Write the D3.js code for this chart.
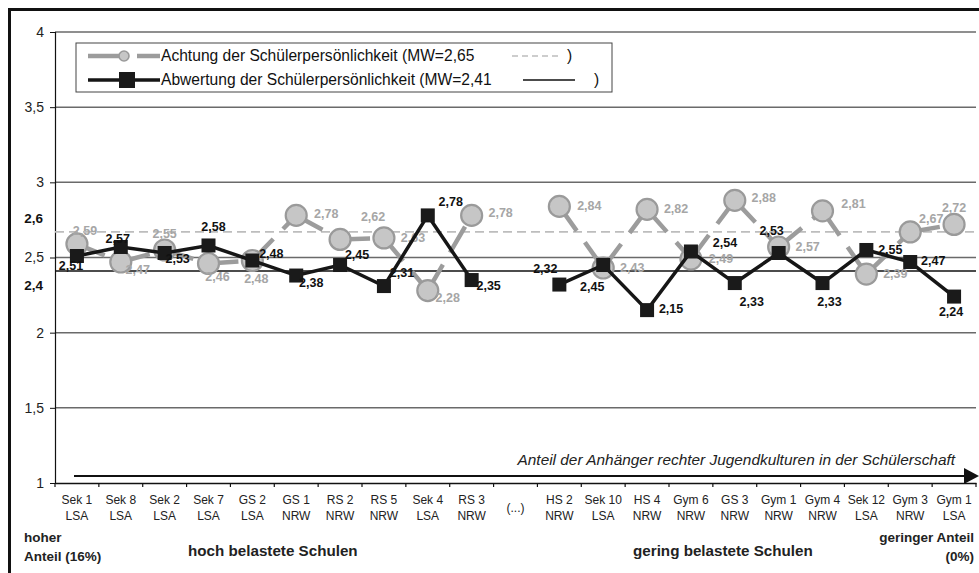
<!DOCTYPE html>
<html>
<head>
<meta charset="utf-8">
<script src="https://cdn.jsdelivr.net/npm/d3@7"></script>
<style>
  html, body { margin: 0; padding: 0; background: #fff; }
  svg { display: block; font-family: Arial, "Liberation Sans", sans-serif; }
</style>
</head>
<body>
<svg id="chart" width="979" height="573"></svg>
<script>
// ---------------------------------------------------------------------------
// Data
// ---------------------------------------------------------------------------
const schools = ["Sek 1", "Sek 8", "Sek 2", "Sek 7", "GS 2", "GS 1", "RS 2", "RS 5", "Sek 4", "RS 3",
  "(...)", "HS 2", "Sek 10", "HS 4", "Gym 6", "GS 3", "Gym 1", "Gym 4", "Sek 12", "Gym 3", "Gym 1"];
const regions = ["LSA", "LSA", "LSA", "LSA", "LSA", "NRW", "NRW", "NRW", "LSA", "NRW",
  "", "NRW", "LSA", "NRW", "NRW", "NRW", "NRW", "NRW", "LSA", "NRW", "LSA"];

const achtung = [2.59, 2.47, 2.55, 2.46, 2.48, 2.78, 2.62, 2.63, 2.28, 2.78,
  null, 2.84, 2.43, 2.82, 2.49, 2.88, 2.57, 2.81, 2.39, 2.67, 2.72];
const abwertung = [2.51, 2.57, 2.53, 2.58, 2.48, 2.38, 2.45, 2.31, 2.78, 2.35,
  null, 2.32, 2.45, 2.15, 2.54, 2.33, 2.53, 2.33, 2.55, 2.47, 2.24];

const meanLabels = ["2,65", "2,41"];
const meanAchtungLine = 2.67;   // dashed line as drawn in the picture
const meanAbwertungLine = 2.41;

const yTicks = [1, 1.5, 2, 2.5, 3, 3.5, 4];

// label offsets (px) relative to the marker, hand placed like the original
const grayDx = [8, 17, 0, 9, 4, 30, 33, 29, 20, 29, 0, 30, 29, 29, 30, 29, 29, 31, 29, 21, 0];
const grayDy = [-13, 8, -16, 13, 18, -1, -22, 0, 7, -2, 0, 0, 0, 0, 0, -2, 0, -7, 0, -13, -16];
const blackDx = [-6, -3, 13, 5, 19, 15, 17, 18, 23, 17, 0, -14, -11, 24, 34, 17, -7, 7, 24, 23, -3];
const blackDy = [10, -8, 6, -18, -7, 7, -10, -13, -13, 6, 0, -16, 22, -1, -8, 19, -22, 19, 0, -1, 15];

// ---------------------------------------------------------------------------
const fmt = v => d3.format(".2f")(v).replace(".", ",");
const svg = d3.select("#chart");

const x = d3.scaleBand().domain(d3.range(schools.length)).range([55, 976]).padding(0);
const y = d3.scaleLinear().domain([1, 4]).range([483, 32]);
const cx = i => x(i) + x.bandwidth() / 2;

// outer frame (top + left only are visible)
svg.append("line").attr("x1", 9).attr("x2", 979).attr("y1", 9.5).attr("y2", 9.5)
  .attr("stroke", "#111").attr("stroke-width", 3);
svg.append("line").attr("x1", 9.5).attr("x2", 9.5).attr("y1", 8).attr("y2", 573)
  .attr("stroke", "#111").attr("stroke-width", 3);

// gridlines
svg.append("g").selectAll("line").data(yTicks.filter(d => d > 1)).join("line")
  .attr("x1", 55).attr("x2", 976)
  .attr("y1", d => y(d)).attr("y2", d => y(d))
  .attr("stroke", "#6a6a6a").attr("stroke-width", 1.5);

// y axis
const yAxis = svg.append("g").attr("transform", "translate(55,0)")
  .call(d3.axisLeft(y).tickValues(yTicks).tickSize(5).tickPadding(6)
    .tickFormat(d => String(d).replace(".", ",")));
yAxis.select(".domain").attr("stroke", "#111").attr("stroke-width", 1.2);
yAxis.selectAll(".tick line").attr("stroke", "#111");
yAxis.selectAll("text").attr("font-size", 14).attr("fill", "#222")
  .attr("font-family", "Arial, Liberation Sans, sans-serif");

// x axis
const xAxis = svg.append("g").attr("transform", `translate(0,${y(1)})`)
  .call(d3.axisBottom(x).tickSize(0).tickFormat(""));
xAxis.select(".domain").attr("stroke", "#111").attr("stroke-width", 1.5);
svg.append("g").selectAll("line").data(d3.range(schools.length + 1)).join("line")
  .attr("x1", i => 55 + i * x.bandwidth()).attr("x2", i => 55 + i * x.bandwidth())
  .attr("y1", y(1)).attr("y2", y(1) + 4)
  .attr("stroke", "#111").attr("stroke-width", 1.2);

const xl = svg.append("g").attr("font-size", 12).attr("fill", "#222").attr("text-anchor", "middle");
schools.forEach((s, i) => {
  if (regions[i] === "") {
    xl.append("text").attr("x", cx(i)).attr("y", 512).text(s);
  } else {
    xl.append("text").attr("x", cx(i)).attr("y", 504).text(s);
    xl.append("text").attr("x", cx(i)).attr("y", 520).text(regions[i]);
  }
});

// extra mean annotations on the left
svg.append("text").attr("x", 43).attr("y", 223).attr("text-anchor", "end")
  .attr("font-size", 13.5).attr("font-weight", "bold").attr("fill", "#111").text("2,6");
svg.append("text").attr("x", 43).attr("y", 290).attr("text-anchor", "end")
  .attr("font-size", 13.5).attr("font-weight", "bold").attr("fill", "#111").text("2,4");

// mean lines
svg.append("line").attr("x1", 55).attr("x2", 976)
  .attr("y1", y(meanAchtungLine)).attr("y2", y(meanAchtungLine))
  .attr("stroke", "#bdbdbd").attr("stroke-width", 1.8).attr("stroke-dasharray", "9,5");
svg.append("line").attr("x1", 55).attr("x2", 976)
  .attr("y1", y(meanAbwertungLine)).attr("y2", y(meanAbwertungLine))
  .attr("stroke", "#111").attr("stroke-width", 1.5);

// gray series: long-dash segments restarting at each point
const grayPairs = d3.pairs(d3.range(achtung.length))
  .filter(([a, b]) => achtung[a] != null && achtung[b] != null);
svg.append("g").selectAll("line").data(grayPairs).join("line")
  .attr("x1", d => cx(d[0])).attr("y1", d => y(achtung[d[0]]))
  .attr("x2", d => cx(d[1])).attr("y2", d => y(achtung[d[1]]))
  .attr("stroke", "#9c9c9c").attr("stroke-width", 4.5)
  .attr("stroke-dasharray", "30,14");

const grayIdx = d3.range(achtung.length).filter(i => achtung[i] != null);
svg.append("g").selectAll("circle").data(grayIdx).join("circle")
  .attr("cx", i => cx(i)).attr("cy", i => y(achtung[i])).attr("r", 10.5)
  .attr("fill", "#c6c6c6").attr("stroke", "#9a9a9a").attr("stroke-width", 2.2);

svg.append("g").selectAll("text").data(grayIdx).join("text")
  .attr("x", i => cx(i) + grayDx[i]).attr("y", i => y(achtung[i]) + grayDy[i])
  .attr("text-anchor", "middle").attr("dominant-baseline", "central")
  .attr("font-size", 12.5).attr("font-weight", "bold").attr("fill", "#a6a6a6")
  .text(i => fmt(achtung[i]));

// black series
const line = d3.line().defined(d => d != null).x((d, i) => cx(i)).y(d => y(d));
svg.append("path").datum(abwertung).attr("d", line)
  .attr("fill", "none").attr("stroke", "#161616").attr("stroke-width", 3.5)
  .attr("stroke-linejoin", "miter");

const blackIdx = d3.range(abwertung.length).filter(i => abwertung[i] != null);
svg.append("g").selectAll("rect").data(blackIdx).join("rect")
  .attr("x", i => cx(i) - 7).attr("y", i => y(abwertung[i]) - 7)
  .attr("width", 14).attr("height", 14).attr("fill", "#1a1a1a");

svg.append("g").selectAll("text").data(blackIdx).join("text")
  .attr("x", i => cx(i) + blackDx[i]).attr("y", i => y(abwertung[i]) + blackDy[i])
  .attr("text-anchor", "middle").attr("dominant-baseline", "central")
  .attr("font-size", 12.5).attr("font-weight", "bold").attr("fill", "#111")
  .text(i => fmt(abwertung[i]));

// legend
const lg = svg.append("g");
lg.append("rect").attr("x", 76).attr("y", 43).attr("width", 536).attr("height", 49)
  .attr("fill", "#fff").attr("stroke", "#444").attr("stroke-width", 1);
lg.append("line").attr("x1", 88).attr("x2", 160).attr("y1", 56).attr("y2", 56)
  .attr("stroke", "#9c9c9c").attr("stroke-width", 4.5).attr("stroke-dasharray", "32,17");
lg.append("circle").attr("cx", 124).attr("cy", 56).attr("r", 5)
  .attr("fill", "#c6c6c6").attr("stroke", "#9a9a9a").attr("stroke-width", 1.6);
lg.append("line").attr("x1", 88).attr("x2", 160).attr("y1", 80).attr("y2", 80)
  .attr("stroke", "#161616").attr("stroke-width", 3.5);
lg.append("rect").attr("x", 119).attr("y", 72).attr("width", 16).attr("height", 16)
  .attr("fill", "#1a1a1a");
lg.append("text").attr("x", 161).attr("y", 61).attr("font-size", 15.6).attr("fill", "#111")
  .text(`Achtung der Schülerpersönlichkeit (MW=${meanLabels[0]}`);
lg.append("text").attr("x", 161).attr("y", 85).attr("font-size", 15.6).attr("fill", "#111")
  .text(`Abwertung der Schülerpersönlichkeit (MW=${meanLabels[1]}`);
lg.append("line").attr("x1", 512).attr("x2", 562).attr("y1", 56).attr("y2", 56)
  .attr("stroke", "#bdbdbd").attr("stroke-width", 1.5).attr("stroke-dasharray", "6,4");
lg.append("text").attr("x", 567).attr("y", 61).attr("font-size", 15.6).attr("fill", "#111").text(")");
lg.append("line").attr("x1", 523).attr("x2", 575).attr("y1", 80).attr("y2", 80)
  .attr("stroke", "#111").attr("stroke-width", 1.5);
lg.append("text").attr("x", 594).attr("y", 85).attr("font-size", 15.6).attr("fill", "#111").text(")");

// arrow along the bottom
svg.append("line").attr("x1", 74).attr("x2", 966).attr("y1", 476).attr("y2", 476)
  .attr("stroke", "#111").attr("stroke-width", 2);
svg.append("path").attr("d", "M964,468 L979,476 L964,484 Z").attr("fill", "#111");
svg.append("text").attr("x", 955).attr("y", 465).attr("text-anchor", "end")
  .attr("font-size", 15.4).attr("font-style", "italic").attr("fill", "#222")
  .text("Anteil der Anhänger rechter Jugendkulturen in der Schülerschaft");

// bottom annotations
const bt = svg.append("g").attr("font-weight", "bold").attr("fill", "#222");
bt.append("text").attr("x", 24).attr("y", 542).attr("font-size", 13.5).text("hoher");
bt.append("text").attr("x", 24).attr("y", 561).attr("font-size", 13.5).text("Anteil (16%)");
bt.append("text").attr("x", 188).attr("y", 556).attr("font-size", 15.2).text("hoch belastete Schulen");
bt.append("text").attr("x", 633).attr("y", 556).attr("font-size", 15.2).text("gering belastete Schulen");
bt.append("text").attr("x", 974).attr("y", 542).attr("text-anchor", "end").attr("font-size", 13.5).text("geringer Anteil");
bt.append("text").attr("x", 974).attr("y", 561).attr("text-anchor", "end").attr("font-size", 13.5).text("(0%)");
</script>
</body>
</html>
